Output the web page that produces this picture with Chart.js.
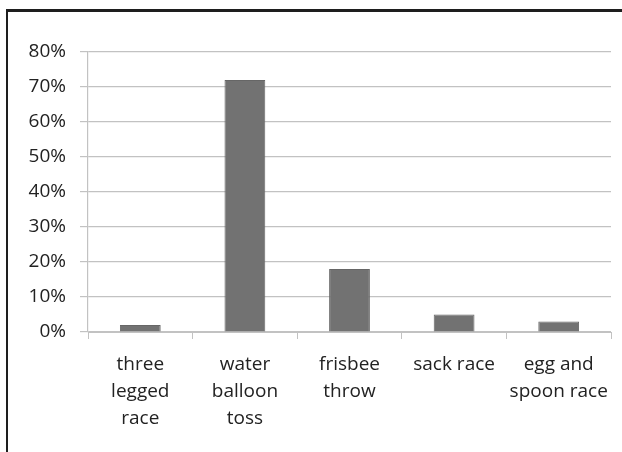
<!DOCTYPE html>
<html>
<head>
<meta charset="utf-8">
<script src="https://cdn.jsdelivr.net/npm/chart.js@4/dist/chart.umd.min.js"></script>
<style>
  html, body { margin: 0; padding: 0; background: #fff; }
  #wrap { position: relative; width: 622px; height: 452px; overflow: hidden; }
  #frame { position: absolute; left: 6px; top: 9px; width: 700px; height: 600px;
           border-left: 2px solid #1e1e1e; border-top: 3px solid #1e1e1e; box-sizing: border-box; }
  canvas { position: absolute; left: 0; top: 0; }
</style>
</head>
<body>
<div id="wrap">
  <div id="frame"></div>
  <canvas id="c" width="622" height="452"></canvas>
</div>
<script>
// Favourite field-day event, share of votes (%)
const categories = [
  ['three', 'legged', 'race'],
  ['water', 'balloon', 'toss'],
  ['frisbee', 'throw'],
  ['sack race'],
  ['egg and', 'spoon race']
];
const shares = [2, 72, 18, 5, 3];
const yTicks = [0, 10, 20, 30, 40, 50, 60, 70, 80];

const font = { family: '"Open Sans", "Liberation Sans", sans-serif', size: 19 };
const gridColor = '#c2c2c2';

new Chart(document.getElementById('c'), {
  type: 'bar',
  data: {
    labels: categories,
    datasets: [{
      data: shares,
      backgroundColor: '#727272',
      borderColor: '#666666',
      borderWidth: 1,
      categoryPercentage: 1,
      barPercentage: 0.39
    }]
  },
  options: {
    responsive: false,
    animation: false,
    devicePixelRatio: 1,
    layout: { padding: { top: 52, right: 11, bottom: 0, left: 0 } },
    plugins: { legend: { display: false }, tooltip: { enabled: false } },
    scales: {
      x: {
        offset: true,
        grid: { drawOnChartArea: false, drawTicks: true, tickLength: 7, color: gridColor, offset: true },
        border: { color: gridColor, width: 1 },
        ticks: { font: { ...font, lineHeight: 1.42 }, color: '#222', padding: 12, maxRotation: 0, autoSkip: false },
        afterFit: s => { s.height = 120; }
      },
      y: {
        min: yTicks[0],
        max: yTicks[yTicks.length - 1],
        afterBuildTicks: s => { s.ticks = yTicks.map(v => ({ value: v })); },
        grid: { color: gridColor, lineWidth: 1.2, tickLength: 8 },
        border: { color: gridColor, width: 1.2 },
        ticks: { font: font, color: '#222', padding: 14, callback: v => v + '%' },
        afterFit: s => { s.width = 88; }
      }
    }
  }
});
</script>
</body>
</html>
